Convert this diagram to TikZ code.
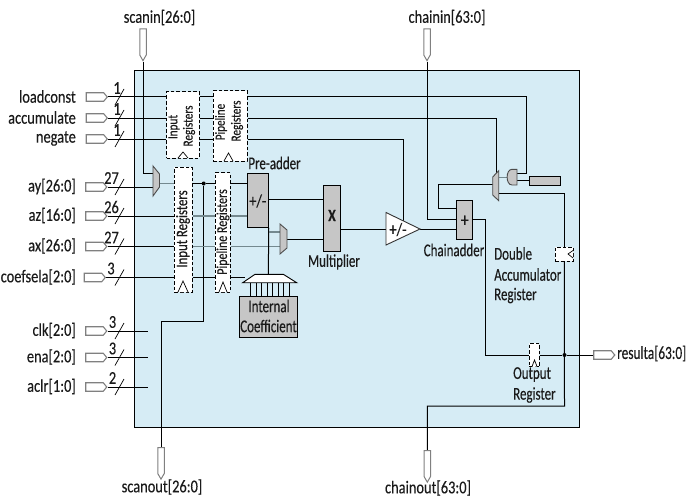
\documentclass[tikz,border=0pt]{standalone}
\usepackage{fontspec}
\setmainfont{Carlito}[FakeStretch=0.8,FakeBold=0.25]
\newfontfamily\narrowf{Carlito}[FakeStretch=0.72,FakeBold=0.25]
\usetikzlibrary{shapes.symbols,calc}
\definecolor{panelc}{HTML}{D6ECF5}
\definecolor{blockc}{HTML}{C6C6C6}
\definecolor{wirec}{HTML}{74898F}
\definecolor{pinc}{HTML}{808080}
\definecolor{inkc}{HTML}{1A1A1A}
\pgfdeclarelayer{bgl}
\pgfdeclarelayer{wl}
\pgfsetlayers{bgl,wl,main}
\tikzset{
  wire/.style={line width=1pt,black},
  gwire/.style={line width=1.3pt,wirec},
  slash/.style={line width=.7pt,black},
  blk/.style={draw=black,line width=.9pt,fill=blockc,inner sep=0pt},
  reg/.style={draw=black,fill=white,line width=1pt,dash pattern=on 3.6pt off 2pt,inner sep=0pt},
  clock/.style={draw=black,line width=.7pt,fill=white},
  shp/.style={draw=black!70,line width=.9pt,fill=blockc},
  pinE/.style={shape=signal,signal to=east,signal pointer angle=100,draw=pinc,fill=white,line width=1.1pt,inner sep=0pt,minimum width=21pt,minimum height=8.5pt},
  pinS/.style={shape=signal,signal to=south,signal pointer angle=60,draw=pinc,fill=white,line width=1pt,inner sep=0pt,minimum width=6.5pt,minimum height=26pt},
  lab/.style={font=\fontsize{18}{19}\selectfont,text=inkc,inner sep=0pt},
  ilab/.style={font=\narrowf\fontsize{18}{19}\selectfont,text=inkc,inner sep=0pt},
  num/.style={font=\fontsize{18}{19}\selectfont,text=inkc,inner sep=0pt},
  rlab/.style={font=\fontsize{16}{17}\selectfont,text=inkc,inner sep=0pt,rotate=90},
  slab/.style={font=\fontsize{14}{15}\selectfont,text=inkc,inner sep=0pt,rotate=90},
}
\newcommand{\rectnode}[6]{%
  \node[#6,minimum width={((#4)-(#2))*1pt},minimum height={((#5)-(#3))*1pt}]
    (#1) at ({((#2)+(#4))/2},{((#3)+(#5))/2}) {};}
\newcommand{\inpin}[6]{% name, label, x of pin centre, y, number, number offset
  \node[pinE] (#1) at (#3,#4) {};
  \node[lab,anchor=east] (#1t) at (76,{#4-0.5}) {#2};
  \node[num] (#1n) at ({#3+#6},{#4-9}) {#5};
  \coordinate (#1a) at (115,{#4+8});
  \coordinate (#1b) at (124,{#4-8});
  \draw[slash] (#1a) -- (#1b);}
\begin{document}
\begin{tikzpicture}[x=1pt,y=-1pt]
\useasboundingbox (0,0) rectangle (695,500);
% panel
\begin{pgfonlayer}{bgl}
\rectnode{panel}{134}{71}{579.5}{427}{draw=black,fill=panelc,line width=1pt,inner sep=0pt}
\end{pgfonlayer}
% pins
\inpin{p1}{loadconst}{95}{97}{1}{22}
\inpin{p2}{accumulate}{95}{118}{1}{22}
\inpin{p3}{negate}{95}{139}{1}{22}
\inpin{p4}{ay[26:0]}{94.5}{187}{27}{17}
\inpin{p5}{az[16:0]}{94.5}{216}{26}{17}
\inpin{p6}{ax[26:0]}{94.5}{246.5}{27}{17}
\inpin{p7}{coefsela[2:0]}{93}{277.5}{3}{18}
\inpin{p8}{clk[2:0]}{94.5}{331}{3}{18}
\inpin{p9}{ena[2:0]}{94.5}{357.5}{3}{18}
\inpin{p10}{aclr[1:0]}{94.5}{387}{2}{18}
\node[pinE] (pout) at (602.5,355) {};
\node[lab,font=\narrowf\fontsize{18.5}{19}\selectfont,anchor=west] (poutt) at (617,353.5) {resulta[63:0]};
\node[pinS] (pscanin) at (143,42) {};
\node[lab] (pscanint) at (159.5,17.5) {scanin[26:0]};
\node[pinS] (pchainin) at (427,42) {};
\node[lab] (pchainint) at (447,17.5) {chainin[63:0]};
\node[pinS] (pscanout) at (161,460.5) {};
\node[lab] (pscanoutt) at (162,487) {scanout[26:0]};
\node[pinS] (pchainout) at (427.3,463.5) {};
\node[lab] (pchainoutt) at (428,488) {chainout[63:0]};
% registers
\rectnode{r1}{166.5}{92}{199}{158}{reg}
\rectnode{r2}{213}{91}{247}{161}{reg}
\rectnode{r3}{174.3}{167.3}{192.3}{292}{reg}
\rectnode{r4}{215.3}{172.7}{230.3}{292}{reg}
\rectnode{r5}{555.3}{247.3}{573.3}{261.3}{reg}
\rectnode{r6}{529.3}{343.3}{539.3}{366.7}{reg}
\draw[clock] (178,158) -- (183,152) -- (188,158);
\draw[clock] (224,161) -- (228.5,153) -- (233,161);
\draw[clock] (178,292) -- (183,281) -- (188,292);
\draw[clock] (219,292) -- (223,282) -- (227,292);
\draw[clock] (532,366.5) -- (534.5,360) -- (537,366.5);
\draw[clock] (573,250.5) -- (568,254) -- (573,258);
\node[slab] (t1) at (174,127) {Input};
\node[slab] (t2) at (189,126) {Registers};
\node[slab] (t3) at (221,122) {Pipeline};
\node[slab] (t4) at (237,121) {Registers};
\node[rlab] (t5) at (183,229) {Input Registers};
\node[rlab,font=\fontsize{15}{16}\selectfont] (t6) at (223,232) {Pipeline Registers};
% blocks
\rectnode{pre}{247.3}{173.3}{268.3}{227.3}{blk}
\rectnode{mul}{323.3}{185.3}{340.7}{251.3}{blk}
\rectnode{cha}{456.7}{200.7}{472.7}{239.3}{blk}
\rectnode{coef}{239.3}{296}{297.7}{337.3}{blk}
\rectnode{cst}{529.3}{176.3}{560.7}{185.3}{blk}
\node[num] (s1) at (257.8,201) {+/-};
\node[font=\fontsize{17}{18}\selectfont\bfseries,text=inkc,inner sep=0pt] (s2) at (332,215.5) {X};
\node[num,font=\fontsize{20}{21}\selectfont] (s3) at (464.7,221) {+};
\node[ilab] (s4a) at (269,306) {Internal};
\node[ilab] (s4b) at (268.5,326) {Coefficient};
\node[ilab] (s5) at (274.5,163) {Pre-adder};
\node[ilab] (s6) at (334,262) {Multiplier};
\node[ilab] (s7) at (454,250) {Chainadder};
\node[ilab,anchor=west] (s8a) at (494,253.5) {Double};
\node[ilab,anchor=west] (s8b) at (494,274.5) {Accumulator};
\node[ilab,anchor=west] (s8c) at (494,295.5) {Register};
\node[ilab,anchor=west] (s9a) at (513,374.5) {Output};
\node[ilab,anchor=west] (s9b) at (513,395) {Register};
% muxes, gate, triangle, coefficient selector
\draw[shp] (153,166) -- (159.5,174) -- (159.5,187) -- (153,196) -- cycle;
\draw[shp] (280,224) -- (287,230) -- (287,248) -- (280,254) -- cycle;
\draw[shp] (498.7,170.7) -- (492.7,177) -- (492.7,195) -- (498.7,200.7) -- cycle;
\draw[shp] (517,169.3) -- (512,169.3) .. controls (505.5,169.3) and (505.5,185) .. (512,185) -- (517,185) -- cycle;
\draw[draw=black!80,line width=.9pt,fill=white] (386,212.5) -- (420,229) -- (386,245) -- cycle;
\node[num] (s10) at (398,229.5) {+/-};
\draw[line width=.9pt,draw=black,fill=white] (255,274.3) -- (283.3,274.3) -- (296.7,282.7) -- (242.7,282.7) -- cycle;
% junctions
\node[circle,fill=black,inner sep=0pt,minimum size=4pt] (d1) at (203.7,183.5) {};
\node[circle,fill=black,inner sep=0pt,minimum size=4pt] (d2) at (564.5,355) {};
% coordinates
\coordinate (m1s) at (153,173.3);
\coordinate (m1i) at (153,187);
\coordinate (m1o) at (159.5,183.5);
\coordinate (m2a) at (280,232);
\coordinate (m2b) at (280,246.8);
\coordinate (m2o) at (287,239.3);
\coordinate (m3o) at (492.7,184.3);
\coordinate (m3a) at (498.7,177.7);
\coordinate (m3b) at (498.7,193.3);
\coordinate (m3t) at (496.7,173);
\coordinate (g1) at (517,173.3);
\coordinate (g2) at (517,180.7);
\coordinate (g0) at (507.3,177.7);
\coordinate (g1r) at (526.7,173.3);
\coordinate (tl) at (386,229);
\coordinate (tr) at (420,229);
\coordinate (tt) at (403,220.8);
\coordinate (seltop) at (268.3,274.3);
\coordinate (selleft) at (245,277.5);
\coordinate (ca1) at (438.7,208.3);
\coordinate (ca2) at (427.3,219);
\coordinate (ca3) at (472.7,219.3);
\coordinate (ca4) at (485.3,219.3);
\coordinate (ca5) at (456.7,229);
\coordinate (so1) at (161,321);
\coordinate (co1) at (564.5,406);
\coordinate (e8) at (148,331);
\coordinate (e9) at (148,357.5);
\coordinate (e10) at (148,387);
\coordinate (pm) at (268.3,199.7);
% wires
\begin{pgfonlayer}{wl}
\foreach \p in {p1,p2,p3} {\draw[wire] (\p.east) -- (r1.west |- \p.east);
  \draw[wire] (r1.east |- \p.east) -- (r2.west |- \p.east);}
\draw[wire] (r2.east |- p1.east) -| (g1r) -- (g1);
\draw[wire] (r2.east |- p2.east) -| (m3t);
\draw[wire] (r2.east |- p3.east) -| (tt);
\draw[wire] (pscanin.south) |- (m1s);
\draw[wire] (p4.east) -- (m1i);
\draw[gwire] (m1o) -- (r3.west |- m1o);
\draw[wire] (r3.east |- m1o) -- (d1) -- (r4.west |- d1);
\draw[wire] (r4.east |- d1) -- (pre.west |- d1);
\draw[wire] (d1) |- (so1) -- (pscanout.north);
\draw[wire] (p5.east) -- (r3.west |- p5.east);
\draw[gwire] (r3.east |- p5.east) -- (r4.west |- p5.east);
\draw[gwire] (r4.east |- p5.east) -- (pre.west |- p5.east);
\draw[wire] (p6.east) -- (r3.west |- p6.east);
\draw[gwire] (r3.east |- m2b) -- (r4.west |- m2b);
\draw[gwire] (r4.east |- m2b) -- (m2b);
\draw[wire] (p7.east) -- (r3.west |- p7.east);
\draw[wire] (r3.east |- p7.east) -- (r4.west |- p7.east);
\draw[wire] (r4.east |- p7.east) -- (selleft);
\draw[wire] (p8.east) -- (e8);
\draw[wire] (p9.east) -- (e9);
\draw[wire] (p10.east) -- (e10);
\draw[wire] (pre.south east) -- (seltop);
\draw[gwire] (pre.south east |- m2a) -- (m2a);
\draw[wire] (pm) -- (mul.west |- pm);
\draw[wire] (m2o) -- (mul.west |- m2o);
\draw[wire] (mul.east |- tl) -- (tl);
\draw[wire] (tr) -- (ca5);
\draw[wire] (pchainin.south) |- (cha.west |- ca2);
\draw[wire] (cha.west |- ca1) -| (m3o -| ca1) -- (m3o);
\draw[wire] (ca3) -- (ca4) |- (r6.west |- d2);
\draw[wire] (r6.east |- d2) -- (d2) -- (pout.west);
\draw[wire] (m3b) -| (r5.north);
\draw[wire] (r5.south) -- (co1) -| (pchainout.north);
\draw[gwire] (g0) -- (m3a);
\draw[wire] (g2) -- (cst.west |- g2);
\foreach \x in {250.7,256.2,261.7,267.2,272.8,278.3,283.8,289.3} {\draw[line width=.7pt,black] (\x,282.7) -- (\x,296);}
\end{pgfonlayer}
\end{tikzpicture}
\end{document}
